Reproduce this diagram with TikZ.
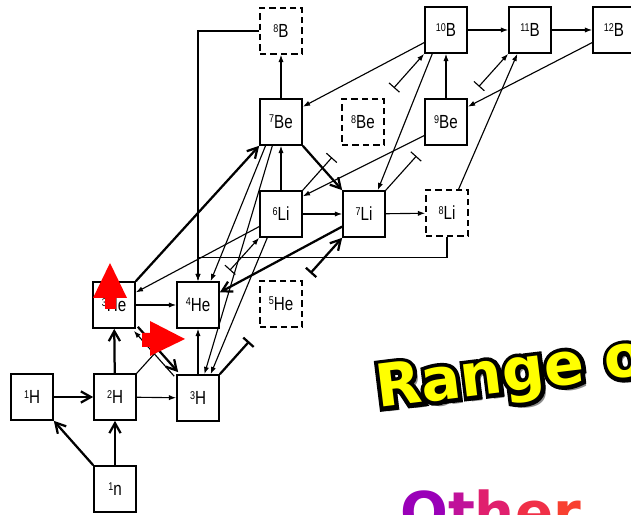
\documentclass[tikz,border=0pt]{standalone}
\usepackage{fontspec}
\setsansfont{Liberation Sans}[FakeStretch=0.8]
\newfontfamily\artfont{DejaVu Sans}
\newfontfamily\artline{DejaVu Sans}[BoldFeatures={FakeBold=14}]
\usetikzlibrary{arrows.meta,calc}
\definecolor{cRed}{HTML}{FF0000}
\definecolor{cGold}{HTML}{FFFF00}
\definecolor{cShade}{HTML}{8C8C8C}
\definecolor{cOa}{HTML}{9A00B8}
\definecolor{cOb}{HTML}{C0129A}
\definecolor{cOc}{HTML}{E0206E}
\definecolor{cOd}{HTML}{F03048}
\definecolor{cOe}{HTML}{F84030}
\newcommand{\nuc}[2]{\raisebox{4pt}{\fontsize{8}{8}\selectfont#1}#2}

\begin{document}
\begin{tikzpicture}[x=0.25mm,y=-0.25mm,
  font=\sffamily\fontsize{13.5}{14}\selectfont,
  box/.style={draw,line width=1.2pt,fill=white,minimum width=10.5mm,minimum height=11.5mm,inner sep=0pt},
  dbox/.style={box,dash pattern=on 1.6mm off 1mm},
  ln/.style={line width=0.8pt,-{Latex[length=1.8mm,width=1.3mm]}},
  thk/.style={line width=1.6pt,-{Straight Barb[length=2.5mm,width=2.8mm]}},
  lnbar/.style={line width=0.8pt,-{Bar[width=3.5mm]}},
  barln/.style={line width=0.8pt,{Bar[width=3.5mm]}-{Latex[length=1.8mm,width=1.3mm]}},
  thkbar/.style={line width=1.6pt,-{Bar[width=3.5mm]}},
  barthk/.style={line width=1.6pt,{Bar[width=3.5mm]}-{Straight Barb[length=2.5mm,width=2.8mm]}},
  title/.style={font=\artfont\bfseries\fontsize{42}{42}\selectfont,anchor=base west,rotate=7,inner sep=0pt}
]
\useasboundingbox (0,0) rectangle (631,515);
% nuclides
\node[box] (H1) at (32,397) {\nuc{1}{H}};
\node[box] (H2) at (115,397) {\nuc{2}{H}};
\node[box] (H3) at (198,398) {\nuc{3}{H}};
\node[box] (n1) at (115,489) {\nuc{1}{n}};
\node[box] (He3) at (114,305) {\nuc{3}{He}};
\node[box] (He4) at (198,305) {\nuc{4}{He}};
\node[dbox] (He5) at (281,304) {\nuc{5}{He}};
\node[box] (Li6) at (281,214) {\nuc{6}{Li}};
\node[box] (Li7) at (364,214) {\nuc{7}{Li}};
\node[dbox] (Li8) at (447,213) {\nuc{8}{Li}};
\node[box] (Be7) at (281,122) {\nuc{7}{Be}};
\node[dbox] (Be8) at (363,122) {\nuc{8}{Be}};
\node[box] (Be9) at (446,122) {\nuc{9}{Be}};
\node[dbox] (B8) at (281,31) {\nuc{8}{B}};
\node[box] (B10) at (446,30) {\nuc{10}{B}};
\node[box] (B11) at (530,30) {\nuc{11}{B}};
\node[box] (B12) at (614,30) {\nuc{12}{B}};
% light nuclei
\draw[thk] (n1.north west) -- (H1.south east);
\draw[thk] (n1) -- (H2);
\draw[thk] (H1) -- (H2);
\draw[thk] (H2) -- (He3);
\draw[ln] (H2) -- (H3);
\draw[thk] ([shift={(2,-2)}]He3.south east) -- ([shift={(2,-2)}]H3.north west);
\draw[ln] ([shift={(-2,2)}]H3.north west) -- ([shift={(-2,2)}]He3.south east);
\draw[ln] (He3) -- (He4);
\draw[ln] (H3) -- (He4);
\draw[thk] (He3.north east) -- (Be7.south west);
\draw[ln] (Li6.210) -- (He3.30);
\draw[ln] (B8.west) -| (He4.north);
\draw[ln] (Li8.south) -- ++(0,21) -| (He4.north);
% A = 6,7,8
\draw[ln] (Be7) -- (B8);
\draw[ln] (Li6) -- (Be7);
\draw[thk] (Be7.south east) -- (Li7.north west);
\draw[ln] (Li6) -- (Li7);
\draw[ln] (Li7) -- (Li8);
\draw[thk] (Li7.210) -- (He4.30);
\draw[ln] (Be7.237) -- (He4.62);
\draw[ln] (Be7.250) -- (H3.75);
\draw[ln] (Li6.240) -- (H3.62);
% heavier
\draw[ln] (Be9.212) -- (Li6.39);
\draw[ln] (Be9) -- (B10);
\draw[ln] (B10) -- (B11);
\draw[ln] (B11) -- (B12);
\draw[ln] (B12.210) -- (Be9.35);
\draw[ln] (B10.210) -- (Be7.35);
\draw[ln] (B10.240) -- (Li7.60);
\draw[ln] (Li8.64) -- (B11.242);
% lines passing behind a box
\draw[lnbar] (H2.north east) -- ($(H2.north east)!.26!(Li6.south west)$);
\draw[barln] ($(H2.north east)!.76!(Li6.south west)$) -- (Li6.south west);
\draw[thkbar] (H3.north east) -- ($(H3.north east)!.24!(Li7.south west)$);
\draw[barthk] ($(H3.north east)!.74!(Li7.south west)$) -- (Li7.south west);
\draw[lnbar] (Li6.north east) -- ($(Li6.north east)!.24!(B10.south west)$);
\draw[barln] ($(Li6.north east)!.75!(B10.south west)$) -- (B10.south west);
\draw[lnbar] (Li7.north east) -- ($(Li7.north east)!.25!(B11.south west)$);
\draw[barln] ($(Li7.north east)!.76!(B11.south west)$) -- (B11.south west);
% red markers
\fill[cRed] (105,309) -- (105,298) -- (93,298) -- (110,263) -- (127,298) -- (116,298) -- (116,309) -- cycle;
\fill[cRed] (142,333) -- (150,333) -- (150,321) -- (185,339) -- (150,356) -- (150,347) -- (142,347) -- cycle;
% slide titles
\node[title,text=cShade] (rangeshade) at (383,413) {Range o};
\node[title,font=\artline\bfseries\fontsize{42}{42}\selectfont,text=black] (rangeline) at (378,408) {Range o};
\node[title,text=cGold] (range) at (378,408) {Range o};
\node[font=\artfont\bfseries\fontsize{40}{40}\selectfont,anchor=north west,inner sep=0pt] (other) at (400,489)
  {\textcolor{cOa}{O}\textcolor{cOb}{t}\textcolor{cOc}{h}\textcolor{cOd}{e}\textcolor{cOe}{r}};
\end{tikzpicture}
\end{document}
